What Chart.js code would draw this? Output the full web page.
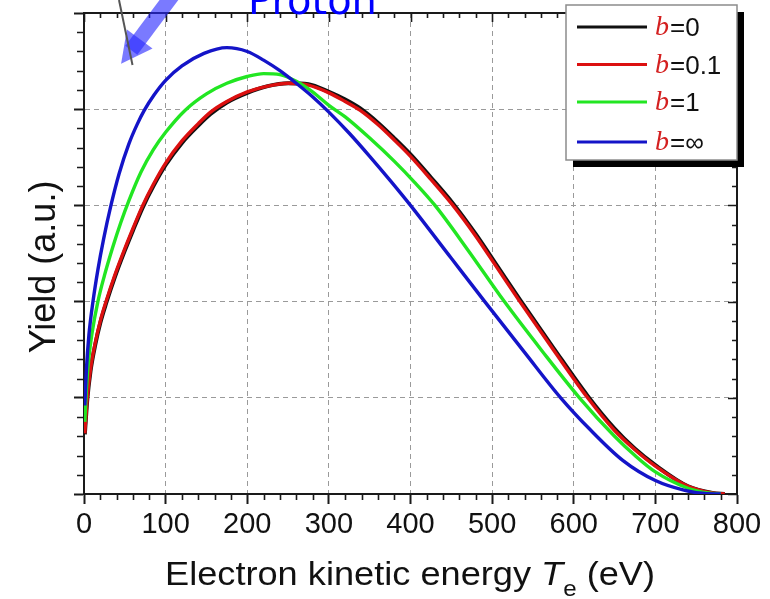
<!DOCTYPE html>
<html>
<head>
<meta charset="utf-8">
<title>Electron yield vs kinetic energy</title>
<script src="https://cdn.jsdelivr.net/npm/chart.js@4/dist/chart.umd.min.js"></script>
<style>
  html, body { margin: 0; padding: 0; background: #fff; }
  #wrap { width: 770px; height: 599px; }
</style>
</head>
<body>
<div id="wrap"><canvas id="yieldChart" width="770" height="599"></canvas></div>
<script>
// ===============================
// Data: electron kinetic energy T_e (eV) vs yield (a.u.)
// ===============================
const energyB0 = [1, 4, 8, 14, 20, 27, 38, 50, 60, 72, 85, 100, 120, 140, 155, 175, 200, 225, 250, 275, 300, 320, 338, 360, 380, 400, 425, 452, 480, 507, 534, 575, 617, 650, 675, 700, 740, 770, 785];
const yieldB0  = [0.62, 0.98, 1.28, 1.56, 1.78, 1.98, 2.26, 2.53, 2.74, 2.98, 3.20, 3.42, 3.65, 3.83, 3.95, 4.07, 4.17, 4.24, 4.27, 4.26, 4.18, 4.10, 4.01, 3.86, 3.70, 3.53, 3.29, 3.02, 2.70, 2.36, 2.02, 1.52, 1.02, 0.68, 0.47, 0.30, 0.08, 0.01, 0.00];

const energyB01 = [1, 4, 8, 14, 20, 27, 38, 50, 60, 72, 85, 100, 120, 140, 155, 175, 200, 225, 250, 275, 300, 320, 338, 360, 380, 400, 425, 452, 480, 507, 534, 575, 617, 650, 675, 700, 740, 770, 785];
const yieldB01  = [0.63, 1.00, 1.30, 1.58, 1.80, 2.00, 2.28, 2.55, 2.76, 3.00, 3.22, 3.44, 3.67, 3.85, 3.97, 4.08, 4.18, 4.24, 4.27, 4.25, 4.17, 4.08, 3.99, 3.84, 3.68, 3.51, 3.27, 3.00, 2.68, 2.34, 2.00, 1.50, 1.00, 0.66, 0.46, 0.29, 0.08, 0.01, 0.00];

const energyB1 = [1, 3, 6, 10, 17, 25, 35, 45, 55, 70, 85, 100, 124, 150, 175, 200, 220, 240, 260, 280, 300, 320, 350, 380, 405, 430, 470, 515, 560, 607, 650, 675, 700, 740, 765, 780];
const yieldB1  = [0.75, 1.10, 1.42, 1.68, 2.00, 2.27, 2.56, 2.82, 3.05, 3.35, 3.58, 3.76, 3.99, 4.16, 4.27, 4.34, 4.37, 4.36, 4.29, 4.18, 4.04, 3.92, 3.70, 3.46, 3.24, 3.00, 2.54, 2.00, 1.50, 1.00, 0.60, 0.40, 0.23, 0.06, 0.01, 0.00];

const energyBinf = [1, 3, 6, 11, 17, 24, 33, 43, 55, 65, 74, 86, 100, 120, 147, 175, 200, 220, 240, 260, 280, 300, 325, 350, 375, 400, 450, 491, 540, 584, 620, 660, 700, 735, 760, 780];
const yieldBinf  = [0.92, 1.30, 1.65, 2.00, 2.33, 2.65, 3.00, 3.33, 3.64, 3.84, 3.99, 4.15, 4.30, 4.45, 4.58, 4.64, 4.60, 4.51, 4.40, 4.27, 4.13, 3.97, 3.75, 3.51, 3.26, 3.00, 2.45, 2.00, 1.47, 1.00, 0.67, 0.35, 0.14, 0.04, 0.005, 0.00];

const bValues = ["0", "0.1", "1", "\u221E"];
const lineColors = ["#111111", "#dc1010", "#22e622", "#1414c8"];
const lineWidths = [4, 3.4, 3.4, 3.4];

const xTicks = [0, 100, 200, 300, 400, 500, 600, 700, 800];

const toPoints = (xs, ys) => xs.map((t, i) => ({ x: t, y: ys[i] }));
const seriesData = [
    toPoints(energyB0, yieldB0),
    toPoints(energyB01, yieldB01),
    toPoints(energyB1, yieldB1),
    toPoints(energyBinf, yieldBinf)
];

const AXIS = "#1a1a1a";
const SANS = "'Liberation Sans', Arial, sans-serif";

// frame: top/right lines plus minor ticks (outer on left/bottom, inner on top/right)
const framePlugin = {
    id: "frame",
    beforeDatasetsDraw(chart) {
        const { ctx, chartArea: a, scales: { x, y } } = chart;
        ctx.save();
        ctx.strokeStyle = AXIS;
        ctx.lineWidth = 2;
        ctx.beginPath();
        ctx.moveTo(a.left, a.top);
        ctx.lineTo(a.right, a.top);
        ctx.lineTo(a.right, a.bottom);
        ctx.stroke();

        ctx.lineWidth = 1.6;
        ctx.beginPath();
        for (let t = 0; t <= 800; t += 20) {
            const px = Math.round(x.getPixelForValue(t)) + 0.5;
            const major = t % 100 === 0;
            if (!major) {
                ctx.moveTo(px, a.bottom);
                ctx.lineTo(px, a.bottom + 6);
            }
            ctx.moveTo(px, a.top);
            ctx.lineTo(px, a.top + (major ? 9 : 5));
        }
        for (let i = 0; i <= 25; i++) {
            const py = Math.round(y.getPixelForValue(i / 5)) + 0.5;
            const major = i % 5 === 0;
            if (!major) {
                ctx.moveTo(a.left - 7, py);
                ctx.lineTo(a.left, py);
            }
            ctx.moveTo(a.right, py);
            ctx.lineTo(a.right - (major ? 9 : 5), py);
        }
        ctx.stroke();
        ctx.restore();
    }
};

// axis titles, legend box and the proton arrow
const decorPlugin = {
    id: "decor",
    afterDraw(chart) {
        const { ctx } = chart;
        ctx.save();
        ctx.fillStyle = "#111";

        // y title
        ctx.save();
        ctx.translate(55, 267);
        ctx.rotate(-Math.PI / 2);
        ctx.font = "36px " + SANS;
        ctx.textAlign = "center";
        ctx.textBaseline = "alphabetic";
        ctx.fillText("Yield (a.u.)", 0, 0);
        ctx.restore();

        // x title with italic T and subscript e, stretched to span 165..655
        const parts = [
            { text: "Electron kinetic energy ", font: "33px " + SANS, dy: 0 },
            { text: "T", font: "italic 33px " + SANS, dy: 0 },
            { text: "e", font: "22px " + SANS, dy: 11 },
            { text: " (eV)", font: "33px " + SANS, dy: 0 }
        ];
        let total = 0;
        parts.forEach(p => { ctx.font = p.font; p.w = ctx.measureText(p.text).width; total += p.w; });
        ctx.save();
        ctx.translate(165, 585);
        ctx.scale(490 / total, 1);
        ctx.textBaseline = "alphabetic";
        ctx.textAlign = "left";
        let cx = 0;
        parts.forEach(p => { ctx.font = p.font; ctx.fillText(p.text, cx, p.dy); cx += p.w; });
        ctx.restore();

        // legend
        const bx = 566, by = 5, bw = 171, bh = 155;
        ctx.fillStyle = "#000";
        ctx.fillRect(bx + 7, by + 7, bw, bh);
        ctx.fillStyle = "#fff";
        ctx.fillRect(bx, by, bw, bh);
        ctx.strokeStyle = "#8c8c8c";
        ctx.lineWidth = 1.5;
        ctx.strokeRect(bx, by, bw, bh);
        const rows = [27, 64.5, 102, 142];
        chart.data.datasets.forEach((ds, i) => {
            const ly = rows[i];
            ctx.strokeStyle = ds.borderColor;
            ctx.lineWidth = 3;
            ctx.beginPath();
            ctx.moveTo(577, ly);
            ctx.lineTo(647, ly);
            ctx.stroke();
            ctx.textBaseline = "middle";
            ctx.fillStyle = "#d42020";
            ctx.font = "italic 28px 'Liberation Serif', 'Times New Roman', serif";
            ctx.fillText("b", 655, ly + 1);
            const w = ctx.measureText("b").width;
            ctx.fillStyle = "#111";
            ctx.font = "26px " + SANS;
            ctx.fillText("=" + bValues[i], 655 + w + 1, ly + 2);
        });

        // proton arrow
        ctx.fillStyle = "rgba(40, 40, 255, 0.62)";
        const ux = -0.6, uy = 0.8;          // arrow direction
        const nx = 0.8, ny = 0.6;           // normal
        const bmx = 139.7, bmy = 39;        // head base centre
        const half = 7.5;
        const bandEnd = 14;
        ctx.beginPath();
        ctx.moveTo(bmx - ux * 60 + nx * half, bmy - uy * 60 + ny * half);
        ctx.lineTo(bmx + ux * bandEnd + nx * half, bmy + uy * bandEnd + ny * half);
        ctx.lineTo(bmx + ux * bandEnd - nx * half, bmy + uy * bandEnd - ny * half);
        ctx.lineTo(bmx - ux * 60 - nx * half, bmy - uy * 60 - ny * half);
        ctx.closePath();
        ctx.fill();
        ctx.beginPath();
        ctx.moveTo(bmx + nx * 16, bmy + ny * 16);
        ctx.lineTo(bmx + ux * 31, bmy + uy * 31);
        ctx.lineTo(bmx - nx * 16, bmy - ny * 16);
        ctx.closePath();
        ctx.fill();

        ctx.strokeStyle = "#555";
        ctx.lineWidth = 2;
        ctx.beginPath();
        ctx.moveTo(119, 0);
        ctx.lineTo(132.5, 65);
        ctx.stroke();

        ctx.fillStyle = "#0000ff";
        ctx.textBaseline = "alphabetic";
        ctx.font = "40px 'DejaVu Sans', sans-serif";
        ctx.fillText("Proton", 248, 14);
        ctx.restore();
    }
};

new Chart(document.getElementById("yieldChart"), {
    type: "line",
    data: {
        datasets: bValues.map((b, i) => ({
            label: "b=" + b,
            data: seriesData[i],
            borderColor: lineColors[i],
            backgroundColor: lineColors[i],
            borderWidth: lineWidths[i],
            pointRadius: 0,
            cubicInterpolationMode: "monotone",
            order: 4 - i
        }))
    },
    options: {
        responsive: false,
        animation: false,
        devicePixelRatio: 1,
        layout: { padding: { top: 13, right: 33, left: 0, bottom: 0 } },
        scales: {
            x: {
                type: "linear",
                min: 0,
                max: 800,
                afterFit: s => { s.height = 105; },
                afterBuildTicks: s => { s.ticks = xTicks.map(v => ({ value: v })); },
                ticks: {
                    padding: 4,
                    color: "#111",
                    font: { family: SANS, size: 29 },
                    maxRotation: 0
                },
                grid: {
                    color: "#9a9a9a",
                    lineWidth: 1,
                    drawTicks: true,
                    tickLength: 10,
                    tickColor: AXIS,
                    tickWidth: 2
                },
                border: { display: true, color: AXIS, width: 2, dash: [5, 4] }
            },
            y: {
                min: 0,
                max: 5,
                afterFit: s => { s.width = 84; },
                ticks: { stepSize: 1, display: false },
                grid: {
                    color: "#9a9a9a",
                    lineWidth: 1,
                    drawTicks: true,
                    tickLength: 10,
                    tickColor: AXIS,
                    tickWidth: 2
                },
                border: { display: true, color: AXIS, width: 2, dash: [5, 4] }
            }
        },
        plugins: {
            legend: { display: false },
            tooltip: { enabled: false }
        }
    },
    plugins: [framePlugin, decorPlugin]
});
</script>
</body>
</html>
